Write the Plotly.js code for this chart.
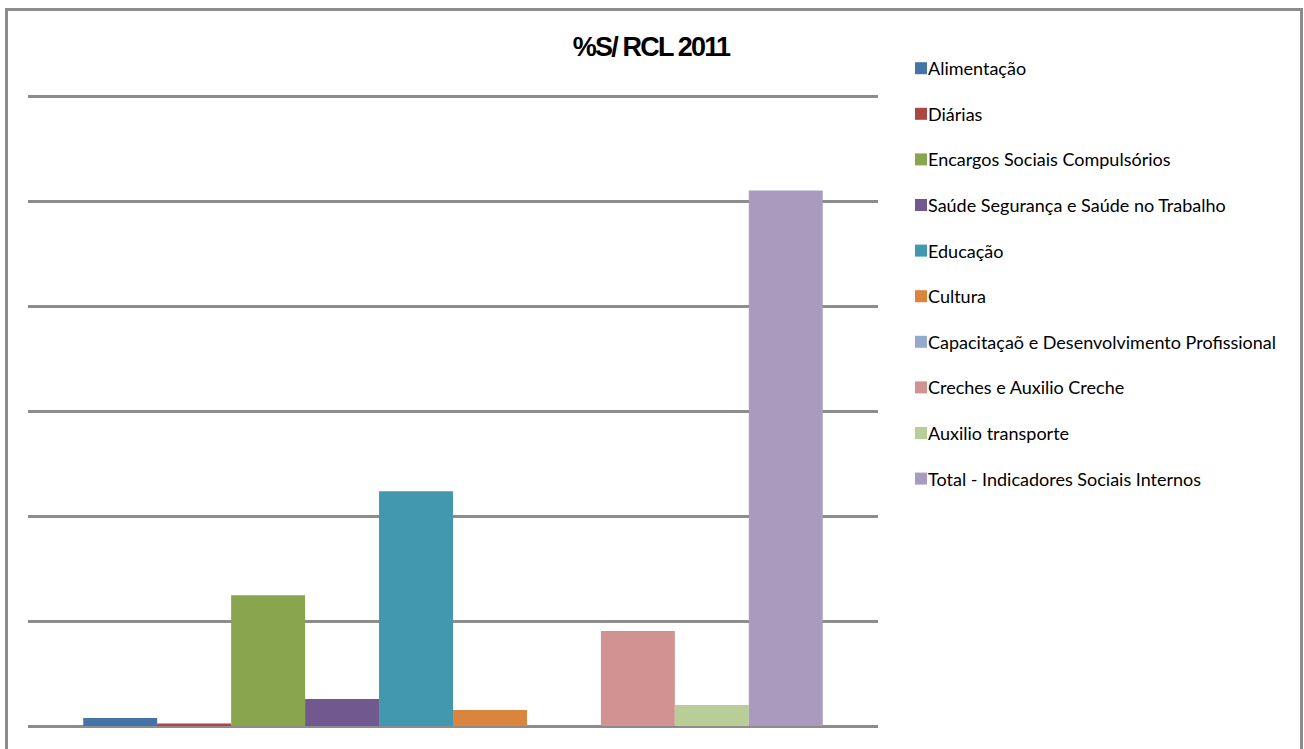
<!DOCTYPE html>
<html>
<head>
<meta charset="utf-8">
<script src="https://cdn.plot.ly/plotly-3.0.1.min.js"></script>
<style>
html,body{margin:0;padding:0;background:#fff;}
#chart{position:absolute;left:0;top:0;width:1304px;height:749px;}
#frame{position:absolute;left:5px;top:8px;width:1292px;height:760px;border:3px solid #8c8c8c;pointer-events:none;}
#chart text.gtitle{letter-spacing:-1.8px;}
#chart .legend text.legendtext{transform:translateX(-13px);}
</style>
</head>
<body>
<div id="chart"></div>
<div id="frame"></div>
<script>
const seriesNames = [
  "Alimentação",
  "Diárias",
  "Encargos Sociais Compulsórios",
  "Saúde Segurança e Saúde no Trabalho",
  "Educação",
  "Cultura",
  "Capacitaçaõ e Desenvolvimento Profissional",
  "Creches e Auxilio Creche",
  "Auxilio transporte",
  "Total - Indicadores Sociais Internos"
];
const seriesValues = [0.076, 0.024, 1.246, 0.257, 2.236, 0.152, 0, 0.904, 0.2, 5.1];
const seriesColors = ["#4572a7","#aa4643","#89a54e","#71588f","#4198af","#db843d","#93a9cf","#d19392","#b9cd96","#a99bbd"];
const category = ["2011"];

const titleFont = "'Liberation Sans', Arial, sans-serif";
const legendFont = "Lato, 'Liberation Sans', sans-serif";

const traces = seriesNames.map((n, i) => ({
  type: "bar",
  name: n,
  x: category,
  y: [seriesValues[i]],
  marker: {color: seriesColors[i], line: {width: 0}},
  legendgroup: "g" + i,
  hoverinfo: "name+y"
}));

const layout = {
  width: 1304,
  height: 749,
  margin: {l: 28, r: 426, t: 95, b: 23, autoexpand: false},
  paper_bgcolor: "#ffffff",
  plot_bgcolor: "#ffffff",
  barmode: "group",
  bargap: 0.13,
  bargroupgap: 0,
  title: {
    text: "<b>%S/ RCL 2011</b>",
    font: {family: titleFont, size: 27, color: "#000"},
    x: 651 / 1304,
    xanchor: "center",
    y: 1 - 47 / 749,
    yanchor: "middle"
  },
  xaxis: {
    showticklabels: false,
    showgrid: false,
    zeroline: false,
    showline: false,
    ticks: ""
  },
  yaxis: {
    range: [0, 6.01],
    dtick: 1,
    tick0: 0,
    showticklabels: false,
    showgrid: true,
    gridcolor: "#8c8c8c",
    gridwidth: 3,
    zeroline: true,
    zerolinecolor: "#8c8c8c",
    zerolinewidth: 3,
    showline: false,
    ticks: ""
  },
  showlegend: true,
  legend: {
    x: (901 - 28) / 850,
    xanchor: "left",
    y: (726 - 50) / 631,
    yanchor: "top",
    font: {family: legendFont, size: 18, color: "#000"},
    tracegroupgap: 19.2,
    itemwidth: 30,
    maxheight: 700,
    bgcolor: "rgba(0,0,0,0)"
  }
};

Plotly.newPlot("chart", traces, layout, {displayModeBar: false, staticPlot: true});
</script>
</body>
</html>
